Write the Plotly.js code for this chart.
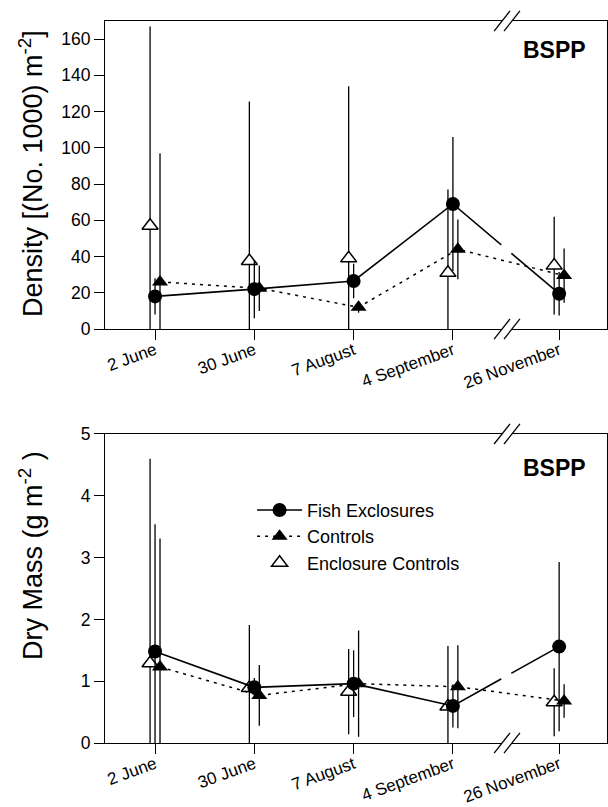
<!DOCTYPE html>
<html>
<head>
<meta charset="utf-8">
<script src="https://cdn.plot.ly/plotly-3.0.1.min.js"></script>
<style>html,body{margin:0;padding:0;background:#fff;}#chart{width:608px;height:807px;}</style>
</head>
<body>
<div id="chart"></div>
<script>
// ---- data ----
const dates = ['2 June', '30 June', '7 August', '4 September', '26 November'];
const datePos = [0, 1, 2, 3, 4.07];

const fishDensity = [18, 22, 26.5, 69, 19.5];
const fishDensityErr = [10, 16, 9.5, 37, 12];
const controlDensity = [26, 22.5, 12, 44, 29.5];
const controlDensityErr = [71, 12.5, 3, 16.5, 15];
const enclosureDensity = [57, 37.5, 39, 31, 35];
const enclosureDensityErr = [110, 88, 95, 46, 27];

const fishMass = [1.48, 0.90, 0.96, 0.60, 1.56];
const fishMassErr = [2.06, 0.15, 0.54, 0.35, 1.37];
const controlMass = [1.23, 0.77, 0.96, 0.91, 0.68];
const controlMassErr = [2.08, 0.49, 0.86, 0.67, 0.27];
const enclosureMass = [1.29, 0.89, 0.83, 0.59, 0.66];
const enclosureMassErr = [3.31, 1.02, 0.69, 0.98, 0.55];

const seriesNames = ['Fish Exclosures', 'Controls', 'Enclosure Controls'];
const panelLabel = 'BSPP';

// ---- styling ----
const FONT = 'Arial, "Liberation Sans", sans-serif';
const off = 0.05;
const shift = (arr, d) => arr.map(v => v + d);

function errY(a) {
  return {type: 'data', array: a, symmetric: true, width: 0, thickness: 1.3, color: '#000'};
}

function panel(xa, ya, fish, fishE, ctrl, ctrlE, enc, encE, legend) {
  return [
    {x: shift(datePos, -off), y: enc, error_y: errY(encE), xaxis: xa, yaxis: ya,
     mode: 'markers', name: seriesNames[2], showlegend: legend,
     marker: {symbol: 'triangle-up', size: 14, color: '#fff', line: {color: '#000', width: 1.5}}},
    {x: shift(datePos, off), y: ctrl, error_y: errY(ctrlE), xaxis: xa, yaxis: ya,
     mode: 'lines+markers', name: seriesNames[1], showlegend: legend,
     line: {color: '#000', width: 1.5, dash: '3px,5px'},
     marker: {symbol: 'triangle-up', size: 14, color: '#000'}},
    {x: datePos, y: fish, error_y: errY(fishE), xaxis: xa, yaxis: ya,
     mode: 'lines+markers', name: seriesNames[0], showlegend: legend,
     line: {color: '#000', width: 1.6},
     marker: {symbol: 'circle', size: 14, color: '#000'}}
  ];
}

const data = [].concat(
  panel('x', 'y', fishDensity, fishDensityErr, controlDensity, controlDensityErr, enclosureDensity, enclosureDensityErr, false),
  panel('x2', 'y2', fishMass, fishMassErr, controlMass, controlMassErr, enclosureMass, enclosureMassErr, true)
);

const xCommon = {
  range: [-0.504, 4.552], tickvals: datePos, ticktext: dates, tickangle: -20,
  showline: true, mirror: true, linecolor: '#000', linewidth: 1,
  ticks: 'outside', ticklen: 10, tickwidth: 1, tickcolor: '#000',
  ticklabelstandoff: -6,
  showgrid: false, zeroline: false, automargin: false,
  tickfont: {family: FONT, size: 17, color: '#000'}
};
const yCommon = {
  showline: true, mirror: true, linecolor: '#000', linewidth: 1,
  ticks: 'outside', ticklen: 10, tickwidth: 1, tickcolor: '#000',
  showgrid: false, zeroline: false, automargin: false,
  tickfont: {family: FONT, size: 17.5, color: '#000'}
};

const topDom = [0.5734, 1];
const botDom = [0, 0.428];

// axis-break marks
const breakX = 3.545;
function breakShapes(xref, yPaper) {
  const hw = 0.08, hh = 0.0139, d = 0.05;
  const c1 = breakX - d, c2 = breakX + d;
  return [
    {type: 'path', xref: xref, yref: 'paper', layer: 'above', fillcolor: '#fff', line: {width: 0},
     path: `M ${c1 - hw} ${yPaper - hh} L ${c1 + hw} ${yPaper + hh} L ${c2 + hw} ${yPaper + hh} L ${c2 - hw} ${yPaper - hh} Z`},
    {type: 'line', xref: xref, yref: 'paper', layer: 'above', line: {color: '#000', width: 1.3},
     x0: c1 - hw, y0: yPaper - hh, x1: c1 + hw, y1: yPaper + hh},
    {type: 'line', xref: xref, yref: 'paper', layer: 'above', line: {color: '#000', width: 1.3},
     x0: c2 - hw, y0: yPaper - hh, x1: c2 + hw, y1: yPaper + hh}
  ];
}
// gap in the Fish Exclosures line across the break
function gapShape(xref, yref, ys) {
  const t0 = 0.455, t1 = 0.55;
  const xa = datePos[3], xb = datePos[4], ya = ys[3], yb = ys[4];
  return {type: 'line', xref: xref, yref: yref, layer: 'above', line: {color: '#fff', width: 5},
    x0: xa + (xb - xa) * t0, y0: ya + (yb - ya) * t0,
    x1: xa + (xb - xa) * t1, y1: ya + (yb - ya) * t1};
}

const shapes = [].concat(
  breakShapes('x', topDom[1]), breakShapes('x', topDom[0]),
  breakShapes('x2', botDom[1]), breakShapes('x2', botDom[0]),
  [gapShape('x', 'y', fishDensity), gapShape('x2', 'y2', fishMass)]
);

const layout = {
  width: 608, height: 807,
  margin: {l: 105, r: 1, t: 21, b: 64},
  paper_bgcolor: '#fff', plot_bgcolor: '#fff',
  font: {family: FONT, color: '#000'},
  xaxis: Object.assign({}, xCommon, {anchor: 'y', domain: [0, 1]}),
  yaxis: Object.assign({}, yCommon, {anchor: 'x', domain: topDom, range: [0, 170], tickvals: [0,20,40,60,80,100,120,140,160]}),
  xaxis2: Object.assign({}, xCommon, {anchor: 'y2', domain: [0, 1]}),
  yaxis2: Object.assign({}, yCommon, {anchor: 'x2', domain: botDom, range: [0, 5], tickvals: [0,1,2,3,4,5]}),
  showlegend: true,
  legend: {x: 0.293, y: 0.348, xanchor: 'left', yanchor: 'top', traceorder: 'reversed',
    font: {family: FONT, size: 18, color: '#000'}, bgcolor: 'rgba(0,0,0,0)', borderwidth: 0,
    itemwidth: 45, tracegroupgap: 0},
  shapes: shapes,
  annotations: [
    {text: 'Density [(No. 1000) m<sup>-2</sup>]', textangle: -90, xref: 'paper', yref: 'paper',
     x: 0, xshift: -74, y: 0.788, xanchor: 'center', yanchor: 'middle', showarrow: false,
     font: {family: FONT, size: 27, color: '#000'}},
    {text: 'Dry Mass (g m<sup>-2</sup> )', textangle: -90, xref: 'paper', yref: 'paper',
     x: 0, xshift: -74, y: 0.259, xanchor: 'center', yanchor: 'middle', showarrow: false,
     font: {family: FONT, size: 27, color: '#000'}},
    {text: '<b>' + panelLabel + '</b>', xref: 'paper', yref: 'paper', x: 0.896, y: 0.96,
     xanchor: 'center', yanchor: 'middle', showarrow: false, font: {family: FONT, size: 23, color: '#000'}},
    {text: '<b>' + panelLabel + '</b>', xref: 'paper', yref: 'paper', x: 0.896, y: 0.381,
     xanchor: 'center', yanchor: 'middle', showarrow: false, font: {family: FONT, size: 23, color: '#000'}}
  ]
};

Plotly.newPlot('chart', data, layout, {displayModeBar: false, staticPlot: true});
</script>
</body>
</html>
